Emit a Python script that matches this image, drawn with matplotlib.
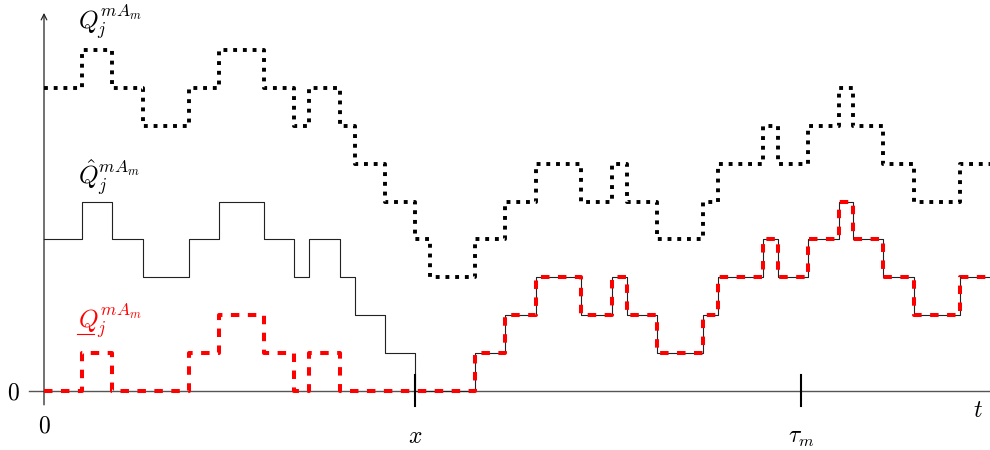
import matplotlib
matplotlib.use("Agg")
import matplotlib.pyplot as plt

plt.rcParams['mathtext.fontset'] = 'cm'
plt.rcParams['lines.scale_dashes'] = False

# step breakpoints (time axis, arbitrary units)
edges = [0.0, 0.51, 0.91, 1.32, 1.93, 2.33, 2.93, 3.33, 3.53, 3.94, 4.14,
         4.55, 4.95, 5.15, 5.75, 6.15, 6.56, 7.16, 7.57, 7.77, 8.17, 8.78,
         8.98, 9.59, 9.78, 10.19, 10.60, 10.79, 11.19, 11.60, 12.21, 12.62]

# upper bound Q_j^{mA_m} (dotted)
q_upper = [8, 9, 8, 7, 8, 9, 8, 7, 8, 7, 6, 5, 4, 3, 4, 5, 6, 5, 6, 5, 4,
           5, 6, 7, 6, 7, 8, 7, 6, 5, 6]
# estimate \hat Q_j^{mA_m} (thin solid)
q_hat = [4, 5, 4, 3, 4, 5, 4, 3, 4, 3, 2, 1, 0, 0, 1, 2, 3, 2, 3, 2, 1,
         2, 3, 4, 3, 4, 5, 4, 3, 2, 3]
# lower bound \underline{Q}_j^{mA_m} (red dashed)
q_lower = [0, 1, 0, 0, 1, 2, 1, 0, 1, 0, 0, 0, 0, 0, 1, 2, 3, 2, 3, 2, 1,
           2, 3, 4, 3, 4, 5, 4, 3, 2, 3]

tick_positions = [4.95, 10.09]
tick_labels = [r'$x$', r'$\tau_m$']

fig = plt.figure(figsize=(9.9, 4.5), dpi=100)
ax = fig.add_axes([0, 0, 1, 1])
ax.set_xlim(-0.5867, 12.613)
ax.set_ylim(-1.574, 10.331)
ax.axis('off')

# axes
ax.plot([-0.2, 12.62], [0, 0], color='#555555', lw=1.0, zorder=1)
ax.annotate('', xy=(0.0, 9.99), xytext=(0.0, -0.38),
            arrowprops=dict(arrowstyle='->', color='#222222', lw=0.9,
                            shrinkA=0, shrinkB=0, mutation_scale=10),
            zorder=1)

# ticks on time axis
for tp, tl in zip(tick_positions, tick_labels):
    ax.plot([tp, tp], [-0.4, 0.4], color='black', lw=1.5, zorder=5)
    ax.text(tp, -1.39, tl, fontsize=17, ha='center', va='baseline')

fs = 17
ax.text(-0.41, -0.225, r'$0$', fontsize=fs, ha='center', va='baseline')
ax.text(0.01, -1.10, r'$0$', fontsize=fs, ha='center', va='baseline')
ax.text(12.45, -0.70, r'$t$', fontsize=fs, ha='center', va='baseline')

def ext(v):
    return list(v) + [v[-1]]

ax.plot(edges, ext(q_upper), drawstyle='steps-post', color='black',
        lw=2.8, linestyle=(0, (2.8, 4.2)), dash_capstyle='butt', zorder=3)
ax.plot(edges, ext(q_hat), drawstyle='steps-post', color='#222222',
        lw=0.8, zorder=2)
ax.plot(edges, ext(q_lower), drawstyle='steps-post', color='#ff0000',
        lw=2.9, linestyle=(0, (6.1, 6.1)), dash_capstyle='butt', zorder=4)

# series labels
lfs = 18
ax.text(0.45, 9.54, r'$Q_j^{mA_m}$', fontsize=lfs, ha='left', va='baseline')
ax.text(0.45, 5.44, r'$\hat{Q}_j^{mA_m}$', fontsize=lfs, ha='left', va='baseline')
ax.text(0.45, 1.65, r'$Q_j^{mA_m}$', fontsize=lfs, ha='left', va='baseline',
        color='#ff0000')
ax.plot([0.44, 0.66], [1.50, 1.50], color='#ff0000', lw=0.8)

fig.savefig('out.png', dpi=100)
